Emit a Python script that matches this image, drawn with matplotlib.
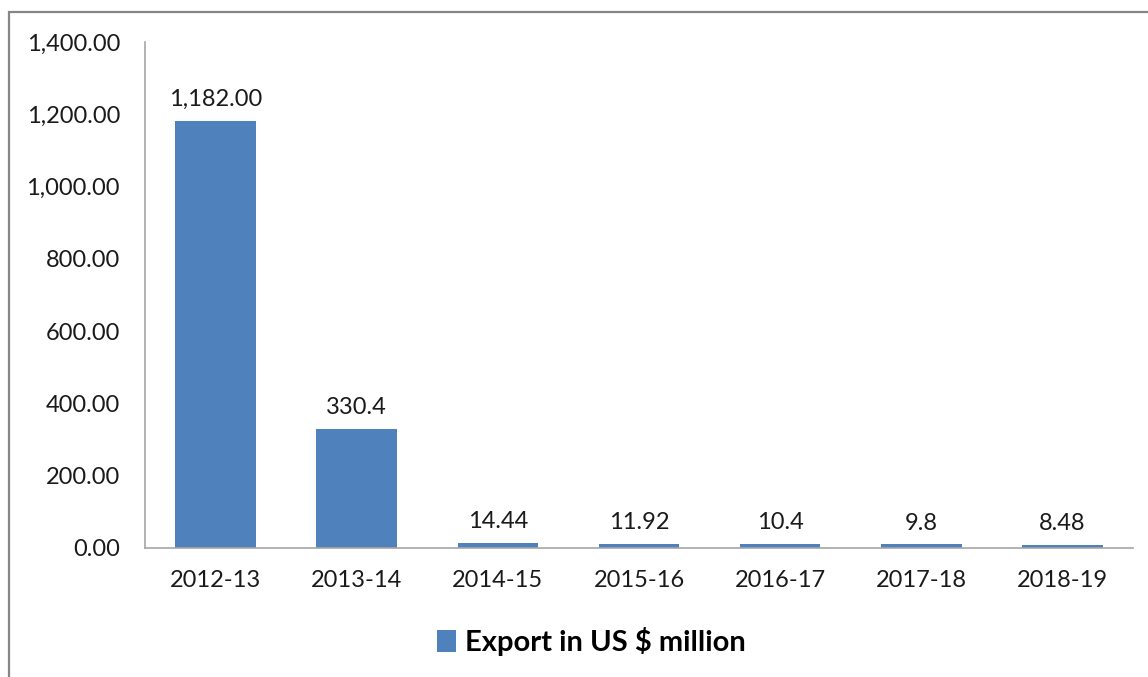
import numpy as np
import matplotlib.pyplot as plt
from matplotlib.patches import Rectangle
from matplotlib.ticker import FuncFormatter

plt.rcParams["font.family"] = ["Lato", "DejaVu Sans"]

# data
years = ["2012-13", "2013-14", "2014-15", "2015-16", "2016-17", "2017-18", "2018-19"]
exports = [1182.00, 330.4, 14.44, 11.92, 10.4, 9.8, 8.48]
value_labels = ["1,182.00", "330.4", "14.44", "11.92", "10.4", "9.8", "8.48"]

bar_color = "#4F81BD"
axis_gray = "#A6A6A6"

fig = plt.figure(figsize=(11.48, 6.77), dpi=100)
ax = fig.add_axes([0.1263, 0.1906, 0.8607, 0.7474])

x = np.arange(len(years))
bars = ax.bar(x, exports, width=0.57, color=bar_color, label="Export in US $ million")

for xi, val, lab in zip(x, exports, value_labels):
    ax.text(xi, val + 30, lab, ha="center", va="bottom", fontsize=17, color="#1a1a1a")

ax.set_xlim(-0.5, len(years) - 0.5)
ax.set_ylim(0, 1400)
ax.set_yticks(np.arange(0, 1401, 200))
ax.yaxis.set_major_formatter(FuncFormatter(lambda v, p: f"{v:,.2f}"))
ax.set_xticks(x)
ax.set_xticklabels(years)
ax.tick_params(axis="both", length=0, labelsize=17, labelcolor="#1a1a1a")
ax.tick_params(axis="y", pad=18)
ax.tick_params(axis="x", pad=16)

for s in ["top", "right"]:
    ax.spines[s].set_visible(False)
for s in ["left", "bottom"]:
    ax.spines[s].set_color(axis_gray)
    ax.spines[s].set_linewidth(1.2)

leg = ax.legend(loc="center", bbox_to_anchor=(0.452, -0.185), frameon=False,
                prop={"size": 21, "weight": "bold"}, handlelength=0.65,
                handleheight=0.75, handletextpad=0.3)

# outer chart border
fig.add_artist(Rectangle((9 / 1148, -0.05), 1.1, 1 - 12 / 677 + 0.05,
                         transform=fig.transFigure, fill=False,
                         edgecolor="#868686", linewidth=1.6))

fig.savefig("out.png", dpi=100)
